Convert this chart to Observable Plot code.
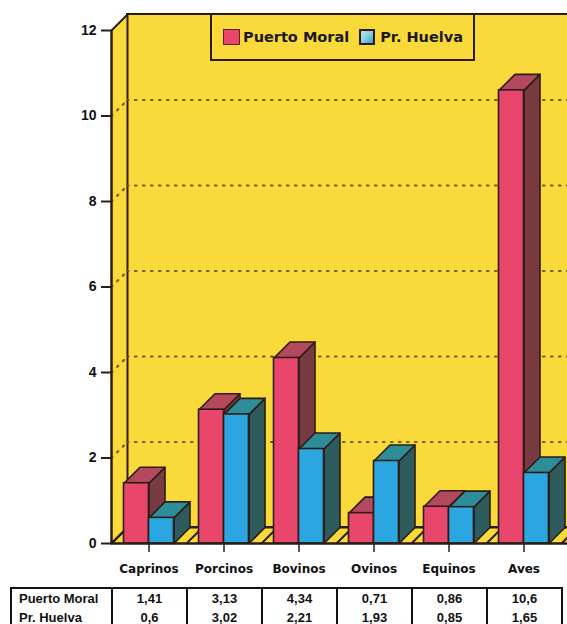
<!DOCTYPE html>
<html>
<head>
<meta charset="utf-8">
<script src="https://cdn.jsdelivr.net/npm/d3@7"></script>
<script src="https://cdn.jsdelivr.net/npm/@observablehq/plot@0.6"></script>
<style>
  body { margin: 0; background: #fff; overflow: hidden; }
  #wrap { position: relative; width: 567px; height: 624px; overflow: hidden; }
  #legend {
    position: absolute; left: 210px; top: 13px; width: 265px; height: 48px;
    box-sizing: border-box; border: 2px solid #2b1d14;
    display: flex; align-items: center; padding-left: 11px;
    font-family: "DejaVu Sans", sans-serif; font-weight: bold; font-size: 14.5px; color: #1a1a1a;
  }
  #legend .sw { width: 17px; height: 16px; box-sizing: border-box; border: 1.5px solid #5a2030; margin-right: 3px; }
  #legend .sw.pm { background: #e8466b; }
  #legend .sw.ph { width: 16px; border: 2px solid #2b1d14; background: linear-gradient(135deg, #bfe3e8 0%, #8fd0e0 45%, #3b9fcf 100%); margin-left: 10px; margin-right: 5px; }
  table#values {
    position: absolute; left: 10px; top: 587px; border-collapse: collapse;
    font-family: "Liberation Sans", Arial, sans-serif; font-weight: bold; font-size: 13px; color: #111;
    border: 2px solid #111;
  }
  table#values td { padding: 0; height: 20px; text-align: center; border-left: 2px solid #111; border-right: 2px solid #111; box-sizing: border-box; }
  table#values td.lab { text-align: left; padding-left: 7px; }
</style>
</head>
<body>
<div id="wrap"></div>
<script>
// Livestock by category: Puerto Moral vs. province of Huelva
const categories = ["Caprinos", "Porcinos", "Bovinos", "Ovinos", "Equinos", "Aves"];
const puertoMoral = [1.41, 3.13, 4.34, 0.71, 0.86, 10.6];
const prHuelva = [0.6, 3.02, 2.21, 1.93, 0.85, 1.65];
const seriesNames = ["Puerto Moral", "Pr. Huelva"];
const yTicks = [0, 2, 4, 6, 8, 10, 12];
const gridValues = [2, 4, 6, 8, 10];

// Layout of the 3D box
const W = 567, H = 584;
const mLeft = 111, mRight = 6, mTop = 30, mBottom = 41;
const xDomain = [-0.5, categories.length - 0.5];
const yDomain = [0, 12];
const pxX = (W - mLeft - mRight) / (xDomain[1] - xDomain[0]);
const pxY = (H - mTop - mBottom) / (yDomain[1] - yDomain[0]);
const depthPx = 16;
const dX = depthPx / pxX, dY = depthPx / pxY;   // depth offset in data units
const barW = 25 / pxX;
const xEnd = xDomain[1] + 0.4;                    // walls run past the right edge

const ink = "#2b1d14";
const yellow = "#fad93b";
const palette = [
  {front: "#e8466b", top: "#b3485f", side: "#783b41"},
  {front: "#2ba6e1", top: "#2d8d99", side: "#2d5b5e"}
];

// Bars
const series = [puertoMoral, prHuelva];
const bars = [];
series.forEach((vals, s) => vals.forEach((v, i) => {
  const x1 = s === 0 ? i - barW : i;
  bars.push({s, i, v, x1, x2: x1 + barW, id: `${s}-${i}`});
}));

const topFaces = bars.flatMap(b => [
  [b.x1, b.v], [b.x2, b.v], [b.x2 + dX, b.v + dY], [b.x1 + dX, b.v + dY]
].map(([x, y]) => ({x, y, id: b.id, s: b.s})));
const sideFaces = bars.flatMap(b => [
  [b.x2, 0], [b.x2 + dX, dY], [b.x2 + dX, b.v + dY], [b.x2, b.v]
].map(([x, y]) => ({x, y, id: b.id, s: b.s})));

const sideWall = [[xDomain[0], 0], [xDomain[0], 12], [xDomain[0] + dX, 12 + dY], [xDomain[0] + dX, dY]]
  .map(([x, y]) => ({x, y}));
const floor = [[xDomain[0], 0], [xEnd, 0], [xEnd + dX, dY], [xDomain[0] + dX, dY]]
  .map(([x, y]) => ({x, y}));
const boundaries = d3.range(-1, categories.length).map(i => i + 0.5);

const poly = (data, fill, extra = {}) => Plot.line(data, {
  x: "x", y: "y", curve: "linear-closed", fill, stroke: ink, strokeWidth: 1.6, ...extra
});

const barMarks = [0, 1].flatMap(s => [
  poly(sideFaces.filter(d => d.s === s), palette[s].side, {z: "id"}),
  poly(topFaces.filter(d => d.s === s), palette[s].top, {z: "id"}),
  Plot.rect(bars.filter(b => b.s === s), {
    x1: "x1", x2: "x2", y1: 0, y2: "v", fill: palette[s].front, stroke: ink, strokeWidth: 1.6
  })
]);

const chart = Plot.plot({
  width: W, height: H,
  marginLeft: mLeft, marginRight: mRight, marginTop: mTop, marginBottom: mBottom,
  x: {type: "linear", domain: xDomain, axis: null},
  y: {type: "linear", domain: yDomain, axis: null},
  style: {background: "transparent", overflow: "visible"},
  marks: [
    // back wall and left wall
    Plot.rect([0], {x1: xDomain[0] + dX, x2: xEnd + dX, y1: dY, y2: 12 + dY, fill: yellow, stroke: ink, strokeWidth: 2}),
    poly(sideWall, yellow, {strokeWidth: 2}),
    // dotted gridlines on the walls
    Plot.ruleY(gridValues, {y: d => d + dY, x1: xDomain[0] + dX, x2: xEnd + dX,
      stroke: "#6e5a1c", strokeWidth: 2.2, strokeDasharray: "1.5,6.5", strokeLinecap: "round"}),
    Plot.link(gridValues, {x1: xDomain[0], y1: d => d, x2: xDomain[0] + dX, y2: d => d + dY,
      stroke: "#6e5a1c", strokeWidth: 2.2, strokeDasharray: "1.5,6.5", strokeLinecap: "round"}),
    // floor with category seams
    poly(floor, yellow, {strokeWidth: 2}),
    Plot.link(boundaries, {x1: d => d, y1: 0, x2: d => d + dX, y2: dY, stroke: ink, strokeWidth: 2}),
    ...barMarks,
    // axes
    Plot.ruleY([0], {x1: xDomain[0], x2: xEnd, stroke: ink, strokeWidth: 2}),
    Plot.ruleX([xDomain[0]], {y1: 0, y2: 12, stroke: ink, strokeWidth: 2}),
    Plot.axisY(yTicks, {tickSize: 10, tickPadding: 5, strokeWidth: 2, stroke: ink,
      fontFamily: "Liberation Sans", fontWeight: "bold", fontSize: 14, fill: "#111"}),
    Plot.axisX(d3.range(categories.length), {tickFormat: i => categories[i], tickSize: 9, tickPadding: 12,
      strokeWidth: 1.5, stroke: ink, fontFamily: "DejaVu Sans", fontWeight: "bold", fontSize: 12, fill: "#111"})
  ]
});

const wrap = document.getElementById("wrap");
wrap.appendChild(chart);

// Legend on the back wall
const legend = document.createElement("div");
legend.id = "legend";
legend.innerHTML = `<span class="sw pm"></span><span>${seriesNames[0]}</span><span class="sw ph"></span><span>${seriesNames[1]}</span>`;
wrap.appendChild(legend);

// Data table under the chart, columns aligned to the category bands
const xs = chart.scale("x");
const fmt = v => String(v).replace(".", ",");
const table = document.createElement("table");
table.id = "values";
const colgroup = `<colgroup><col style="width:${xs.apply(xDomain[0]) - 10}px">` +
  categories.map((c, i) => `<col style="width:${xs.apply(i + 0.5) - xs.apply(i - 0.5)}px">`).join("") + `</colgroup>`;
table.innerHTML = colgroup + series.map((vals, s) =>
  `<tr><td class="lab">${seriesNames[s]}</td>${vals.map(v => `<td>${fmt(v)}</td>`).join("")}</tr>`
).join("");
table.style.width = `${xs.apply(xDomain[1]) - 10}px`;
table.style.tableLayout = "fixed";
wrap.appendChild(table);
</script>
</body>
</html>
